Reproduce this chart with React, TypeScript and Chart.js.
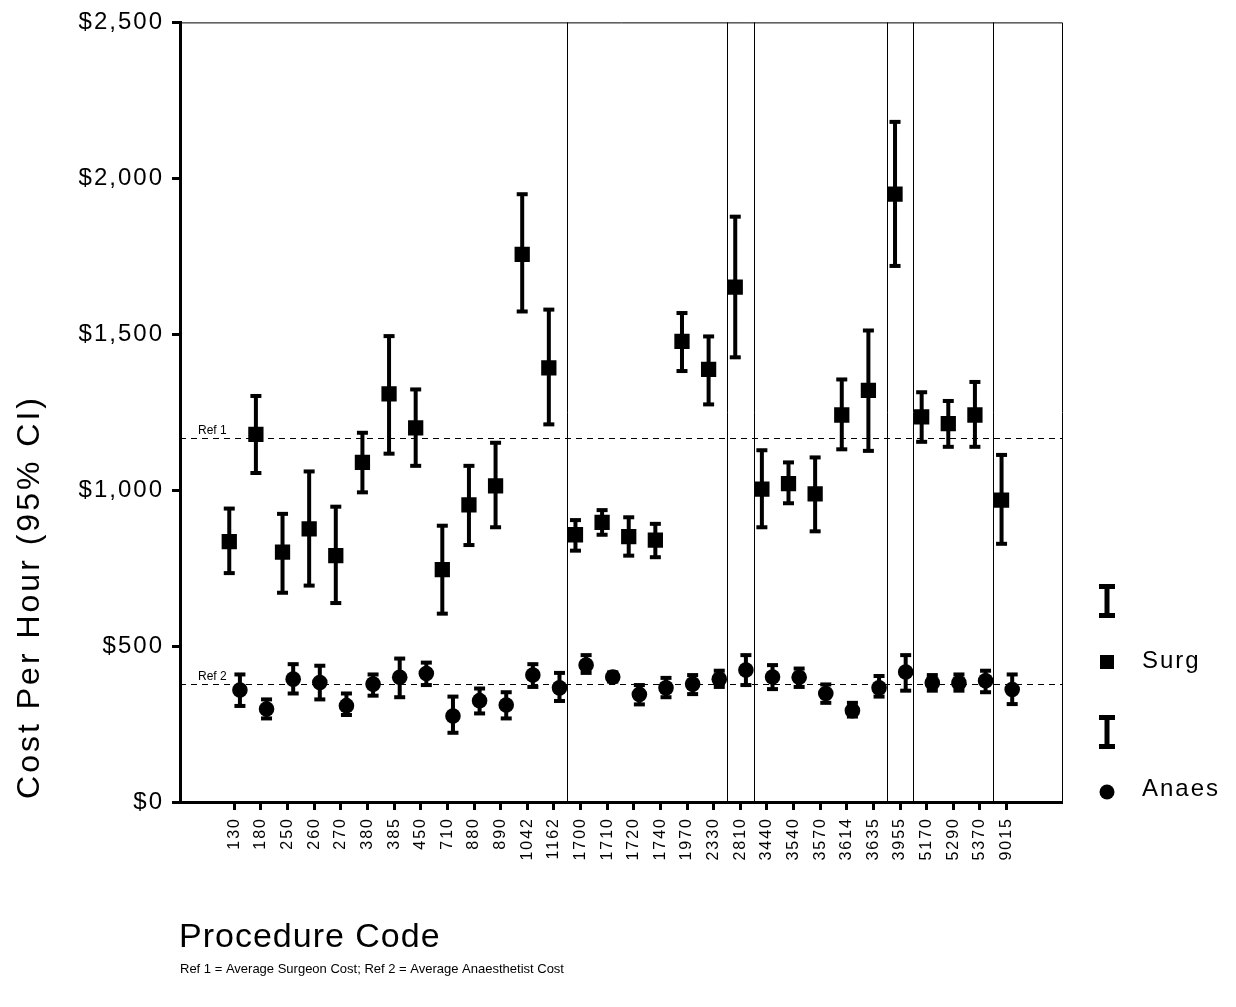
import React, { useEffect, useRef } from 'react';
import { Chart, registerables } from 'chart.js';

Chart.register(...registerables);

const codes = ['130','180','250','260','270','380','385','450','710','880','890','1042','1162','1700','1710','1720','1740','1970','2330','2810','3440','3540','3570','3614','3635','3955','5170','5290','5370','9015'];

const surgMean = [835,1179,801,876,790,1089,1309,1200,745,953,1014,1756,1392,857,897,851,840,1477,1387,1651,1003,1021,988,1241,1320,1949,1235,1213,1241,968];
const surgLow = [734,1055,671,694,638,993,1117,1078,604,824,881,1573,1211,806,857,790,785,1382,1275,1426,881,958,868,1131,1126,1719,1155,1139,1139,828];
const surgHigh = [941,1302,924,1060,947,1184,1494,1323,886,1078,1152,1949,1579,904,936,913,892,1568,1493,1877,1128,1089,1105,1355,1512,2181,1314,1286,1347,1113];

const anaesMean = [359,298,394,383,309,378,400,412,276,325,311,407,366,439,401,345,366,378,394,423,401,400,348,293,366,417,382,382,389,361];
const anaesLow = [308,268,348,329,279,341,336,375,222,284,268,369,324,414,386,313,336,346,369,375,362,369,318,274,338,357,357,357,352,314];
const anaesHigh = [409,329,442,437,348,409,460,447,338,364,352,442,414,471,416,375,398,407,421,471,439,428,377,318,404,471,407,409,421,409];

// group boundaries: a vertical rule after each of these codes
const breakAfter = ['1162','2330','2810','3635','3955','5370'];

const refLines = [
  { label: 'Ref 1', value: 1166 },
  { label: 'Ref 2', value: 379 },
];

const yTicks = [0, 500, 1000, 1500, 2000, 2500];

const FONT = '"Liberation Sans", Arial, Helvetica, sans-serif';
const SURG_OFF = -0.19;
const ANAES_OFF = 0.21;

export default function App() {
  const ref = useRef<HTMLCanvasElement>(null);

  useEffect(() => {
    const canvas = ref.current;
    if (!canvas) return;
    const pos = codes.map((_, i) => i + 2);

    const surgPts = surgMean.map((v, i) => ({ x: pos[i] + SURG_OFF, y: v }));
    const anaesPts = anaesMean.map((v, i) => ({ x: pos[i] + ANAES_OFF, y: v }));

    const custom = {
      id: 'custom',
      beforeDraw(chart: any) {
        chart.ctx.letterSpacing = '2px';
      },
      beforeDatasetsDraw(chart: any) {
        const { ctx, chartArea: a, scales } = chart;
        const xs = scales.x;
        const ys = scales.y;
        ctx.save();
        ctx.letterSpacing = '0px';
        // frame top & right
        ctx.strokeStyle = '#000';
        ctx.lineWidth = 1;
        ctx.beginPath();
        ctx.moveTo(a.left, a.top + 0.5);
        ctx.lineTo(a.right + 0.5, a.top + 0.5);
        ctx.lineTo(a.right + 0.5, a.bottom);
        ctx.stroke();
        // separators
        breakAfter.forEach((c) => {
          const i = codes.indexOf(c);
          const px = Math.round(xs.getPixelForValue(pos[i] + 0.5)) + 0.5;
          ctx.beginPath();
          ctx.moveTo(px, a.top);
          ctx.lineTo(px, a.bottom);
          ctx.stroke();
        });
        // reference lines
        ctx.setLineDash([6, 5]);
        refLines.forEach((r) => {
          const py = Math.round(ys.getPixelForValue(r.value)) + 0.5;
          ctx.beginPath();
          ctx.moveTo(a.left, py);
          ctx.lineTo(a.right, py);
          ctx.stroke();
        });
        ctx.setLineDash([]);
        ctx.fillStyle = '#000';
        ctx.font = `12px ${FONT}`;
        ctx.textAlign = 'left';
        ctx.textBaseline = 'alphabetic';
        refLines.forEach((r) => {
          const py = ys.getPixelForValue(r.value);
          ctx.fillText(r.label, a.left + 18, py - 4);
        });
        // error bars
        const drawBar = (x: number, lo: number, hi: number) => {
          const px = xs.getPixelForValue(x);
          const pLo = ys.getPixelForValue(lo);
          const pHi = ys.getPixelForValue(hi);
          ctx.fillRect(px - 2, pHi, 4, pLo - pHi);
          ctx.fillRect(px - 5.5, pHi - 2, 11, 4);
          ctx.fillRect(px - 5.5, pLo - 2, 11, 4);
        };
        codes.forEach((_, i) => {
          drawBar(pos[i] + SURG_OFF, surgLow[i], surgHigh[i]);
          drawBar(pos[i] + ANAES_OFF, anaesLow[i], anaesHigh[i]);
        });
        ctx.restore();
      },
      afterDraw(chart: any) {
        const { ctx, chartArea: a } = chart;
        ctx.save();
        ctx.fillStyle = '#000';
        // y title
        ctx.save();
        ctx.translate(30, 597);
        ctx.rotate(-Math.PI / 2);
        ctx.font = `32px ${FONT}`;
        ctx.letterSpacing = '3px';
        ctx.textAlign = 'center';
        ctx.textBaseline = 'middle';
        ctx.fillText('Cost Per Hour (95% CI)', 0, 0);
        ctx.restore();
        // x title
        ctx.font = `34px ${FONT}`;
        ctx.letterSpacing = '1px';
        ctx.textAlign = 'left';
        ctx.textBaseline = 'alphabetic';
        ctx.fillText('Procedure Code', a.left - 1, 947);
        // footnote
        ctx.font = `13px ${FONT}`;
        ctx.letterSpacing = '0px';
        ctx.fillText('Ref 1 = Average Surgeon Cost; Ref 2 = Average Anaesthetist Cost', a.left, 973);
        // legend
        const ibar = (cx: number, top: number, bottom: number) => {
          ctx.fillRect(cx - 2.5, top, 5, bottom - top);
          ctx.fillRect(cx - 8, top, 16, 5);
          ctx.fillRect(cx - 8, bottom - 5, 16, 5);
        };
        ibar(1107, 584, 618);
        ctx.fillRect(1100, 655, 14, 14);
        ibar(1107, 715, 749);
        ctx.beginPath();
        ctx.arc(1107, 792, 7.5, 0, Math.PI * 2);
        ctx.fill();
        ctx.font = `24px ${FONT}`;
        ctx.letterSpacing = '2px';
        ctx.textBaseline = 'middle';
        ctx.fillText('Surg', 1142, 661);
        ctx.fillText('Anaes', 1142, 789);
        ctx.restore();
      },
    };

    const chart = new Chart(canvas, {
      type: 'scatter',
      data: {
        datasets: [
          {
            label: 'Surg',
            data: surgPts,
            pointStyle: 'rect',
            pointRadius: 10.8,
            pointBorderWidth: 0,
            backgroundColor: '#000',
            borderColor: '#000',
          },
          {
            label: 'Anaes',
            data: anaesPts,
            pointStyle: 'circle',
            pointRadius: 7.8,
            pointBorderWidth: 0,
            backgroundColor: '#000',
            borderColor: '#000',
          },
        ],
      },
      options: {
        responsive: false,
        animation: false,
        events: [],
        layout: { padding: { left: 0, right: 174, top: 20, bottom: 0 } },
        plugins: { legend: { display: false }, tooltip: { enabled: false }, title: { display: false } },
        scales: {
          x: {
            type: 'linear',
            min: -0.04,
            max: 33.08,
            afterBuildTicks: (s: any) => {
              s.ticks = pos.map((v) => ({ value: v }));
            },
            afterFit: (s: any) => {
              s.height = 205;
            },
            ticks: {
              autoSkip: false,
              minRotation: 90,
              maxRotation: 90,
              padding: 7,
              color: '#000',
              font: { family: FONT, size: 16 },
              callback: (v: any) => codes[Math.round(Number(v)) - 2] ?? '',
            },
            grid: {
              display: true,
              drawOnChartArea: false,
              drawTicks: true,
              tickLength: 8,
              tickWidth: 3,
              tickColor: '#000',
              color: '#000',
            },
            border: { display: true, color: '#000', width: 3 },
          },
          y: {
            type: 'linear',
            min: 0,
            max: 2500,
            afterBuildTicks: (s: any) => {
              s.ticks = yTicks.map((v) => ({ value: v }));
            },
            afterFit: (s: any) => {
              s.width = 180;
            },
            ticks: {
              padding: 8,
              color: '#000',
              font: { family: FONT, size: 24 },
              callback: (v: any) => '$' + Number(v).toLocaleString('en-US'),
            },
            grid: {
              display: true,
              drawOnChartArea: false,
              drawTicks: true,
              tickLength: 8,
              tickWidth: 3,
              tickColor: '#000',
              color: '#000',
            },
            border: { display: true, color: '#000', width: 3 },
          },
        },
      },
      plugins: [custom],
    } as any);

    return () => chart.destroy();
  }, []);

  return (
    <div style={{ position: 'absolute', left: 0, top: 0, width: 1236, height: 1007, background: '#fff' }}>
      <canvas ref={ref} width={1236} height={1007} style={{ width: 1236, height: 1007, display: 'block' }} />
    </div>
  );
}
